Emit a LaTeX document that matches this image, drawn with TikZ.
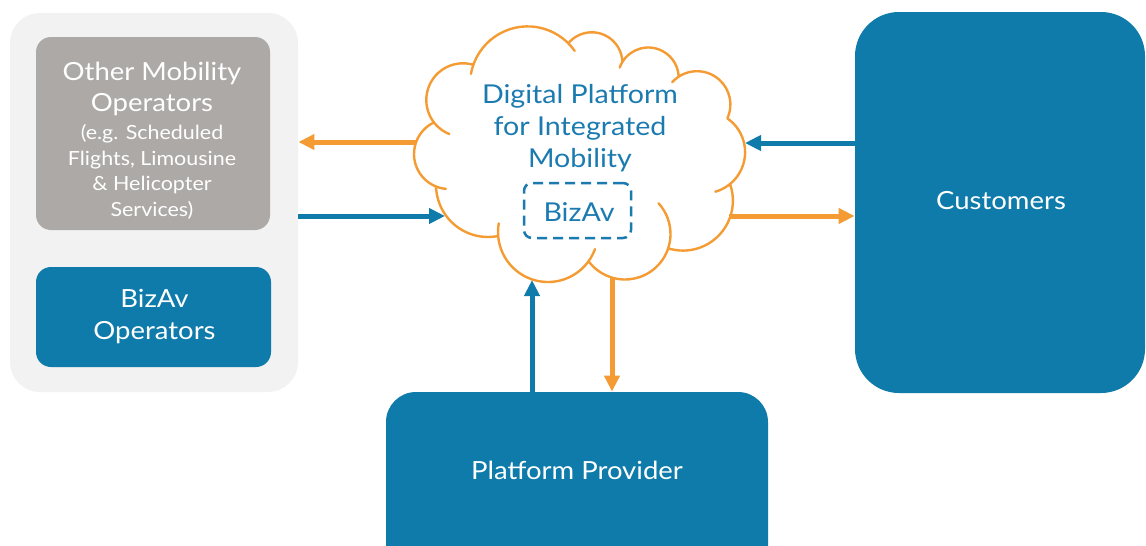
\documentclass[tikz,border=0pt]{standalone}
\usepackage{fontspec}
\setmainfont{Lato}[FakeStretch=1.1]
\usetikzlibrary{arrows.meta}
\definecolor{bblue}{HTML}{0E7BAA}
\definecolor{borange}{HTML}{F49B33}
\definecolor{lgray}{HTML}{F2F2F2}
\definecolor{mgray}{HTML}{ADA9A7}
\definecolor{tblue}{HTML}{1B7BB0}
\begin{document}
\begin{tikzpicture}[x=0.5pt,y=-0.5pt,
  box/.style={rounded corners=7.5pt, inner sep=0pt, draw=none},
  bigtxt/.style={font=\fontsize{12.5}{15}\selectfont, anchor=base, inner sep=0pt, text=white},
  smalltxt/.style={font=\fontsize{9.75}{12}\selectfont, anchor=base, inner sep=0pt, text=white},
  cloudtxt/.style={font=\fontsize{13}{15}\selectfont, anchor=base, inner sep=0pt, text=tblue},
  cloudline/.style={draw=borange, line width=1.2pt, line cap=round},
  arr/.style={line width=2.5pt, -{Triangle[length=8pt,width=7.5pt]}},
]
\useasboundingbox (0,0) rectangle (1146,546);
\clip (0,0) rectangle (1146,546);
% boxes
\node[box, fill=lgray, rounded corners=15pt, minimum width=144pt, minimum height=189.5pt] (grp) at (154,202.5) {};
\node[box, fill=mgray, minimum width=117pt, minimum height=96.5pt] (other) at (153,133.5) {};
\node[box, fill=bblue, minimum width=117.5pt, minimum height=50pt] (bizops) at (153.5,317) {};
\node[box, fill=bblue, rounded corners=22pt, minimum width=145pt, minimum height=190.5pt] (cust) at (1000,202.5) {};
\node[box, fill=bblue, rounded corners=15pt, minimum width=191pt, minimum height=92pt] (prov) at (577,484) {};
% texts
\node[bigtxt] (o1) at (152,80) {Other Mobility};
\node[bigtxt] (o2) at (152,111) {Operators};
\node[smalltxt] (o3) at (152,139.5) {(e.g. Scheduled};
\node[smalltxt] (o4) at (152,165) {Flights, Limousine};
\node[smalltxt] (o5) at (152,190.5) {\& Helicopter};
\node[smalltxt] (o6) at (152,216) {Services)};
\node[bigtxt] (b1) at (154.5,307.5) {BizAv};
\node[bigtxt] (b2) at (154.5,339) {Operators};
\node[bigtxt] (c1) at (1001,209) {Customers};
\node[bigtxt] (p1) at (577,479) {Platform Provider};
% cloud
\path[cloudline]
  (463,100) ++(112:36.7) arc[start angle=112, end angle=286.5, radius=36.7]
  (527.6,83.9) ++(190:57.5) arc[start angle=190, end angle=325, radius=57.5]
  (591.8,62.9) ++(219.8:30.6) arc[start angle=219.8, end angle=358.3, radius=30.6]
  (648.3,77.9) ++(200:30.4) arc[start angle=200, end angle=357.7, radius=30.4]
  (697,104.6) ++(222:33.4) arc[start angle=222, end angle=384.4, radius=33.4]
  (704,152.2) ++(304.7:41.1) arc[start angle=304.7, end angle=434, radius=41.1]
  (683,200.7) ++(340.4:49.9) arc[start angle=340.4, end angle=467.3, radius=49.9]
  (625,234) ++(-42.5:45.5) arc[start angle=-42.5, end angle=143.3, radius=45.5]
  (548,232) ++(20:50) arc[start angle=20, end angle=190, radius=50]
  (488,185) ++(78.7:52) arc[start angle=78.7, end angle=178.3, radius=52]
  (449,154) ++(95:35) arc[start angle=95, end angle=244.5, radius=35];
\node[cloudtxt] (d1) at (580,103) {Digital Platform};
\node[cloudtxt] (d2) at (580,135) {for Integrated};
\node[cloudtxt] (d3) at (580,167) {Mobility};
\node[draw=tblue, line width=1.25pt, dash pattern=on 5pt off 3pt, rounded corners=4pt, inner sep=0pt, minimum width=53.5pt, minimum height=27.5pt] (inner) at (577.5,210.5) {};
\node[cloudtxt] (d4) at (579,221) {BizAv};
% cloud attachment points
\coordinate (cW) at (416,142);
\coordinate (cWin) at (445,216);
\coordinate (cE) at (745,143);
\coordinate (cEout) at (729,216);
\coordinate (cS1) at (532,280);
\coordinate (cS2) at (612,278);
% arrows
\draw[arr, borange] (cW) -- (cW -| grp.east);
\draw[arr, bblue] (cWin -| grp.east) -- (cWin);
\draw[arr, bblue] (cE -| cust.west) -- (cE);
\draw[arr, borange] (cEout) -- (cEout -| cust.west);
\draw[arr, bblue] (cS1 |- prov.north) -- (cS1);
\draw[arr, borange] (cS2) -- (cS2 |- prov.north);
\end{tikzpicture}
\end{document}
